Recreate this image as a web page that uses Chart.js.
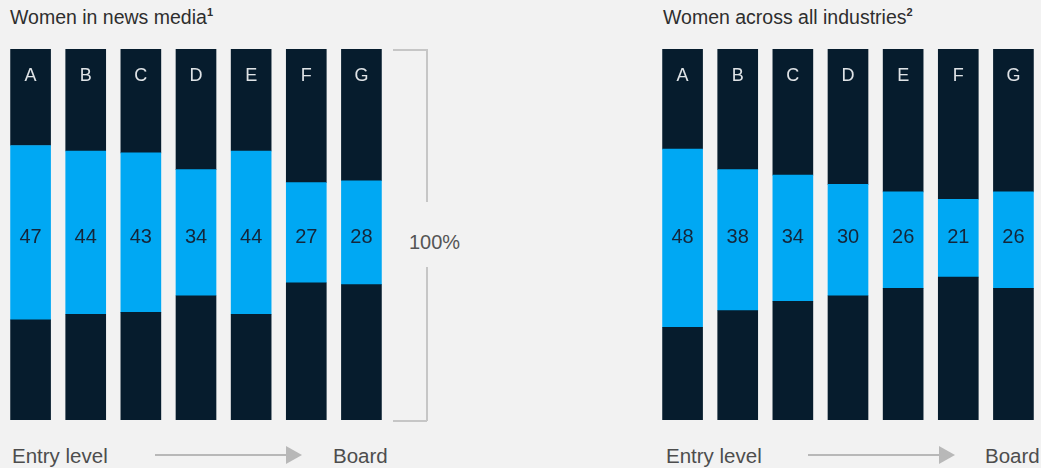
<!DOCTYPE html>
<html>
<head>
<meta charset="utf-8">
<script src="https://cdn.jsdelivr.net/npm/chart.js@4"></script>
<style>
  html, body { margin: 0; padding: 0; }
  body {
    width: 1041px; height: 468px; overflow: hidden; position: relative;
    background: #f2f2f2;
    font-family: "Liberation Sans", Arial, sans-serif;
  }
  .abs { position: absolute; }
  .title { font-size: 19.5px; color: #2e2e2e; line-height: 20px; top: 7px; white-space: nowrap; }
  .title sup { font-size: 11px; font-weight: bold; vertical-align: 0; position: relative; top: -8px; }
  .foot { font-size: 20.5px; color: #4d4d4d; line-height: 20px; top: 446px; white-space: nowrap; }
  .arrow-line { height: 2px; background: #b8b8b8; top: 454px; }
  .arrow-head { width: 0; height: 0; top: 446px;
    border-top: 9px solid transparent; border-bottom: 9px solid transparent; border-left: 16px solid #b8b8b8; }
  .brk { background: #c6c6c6; }
  .pct { font-size: 20px; color: #555; line-height: 20px; top: 232px; left: 409px; }
</style>
</head>
<body>

<div class="abs title" style="left:10px;">Women in news media<sup>1</sup></div>
<div class="abs title" style="left:663px;">Women across all industries<sup>2</sup></div>

<canvas id="newsChart" class="abs" width="386" height="371" style="left:3px; top:49px;"></canvas>
<canvas id="allChart" class="abs" width="386" height="371" style="left:655px; top:49px;"></canvas>

<!-- 100% bracket -->
<div class="abs brk" style="left:393px; top:49px; width:34px; height:1.5px;"></div>
<div class="abs brk" style="left:426px; top:49px; width:1.5px; height:153px;"></div>
<div class="abs pct">100%</div>
<div class="abs brk" style="left:426px; top:267px; width:1.5px; height:154px;"></div>
<div class="abs brk" style="left:393px; top:420px; width:34px; height:1.5px;"></div>

<!-- footers -->
<div class="abs foot" style="left:12px;">Entry level</div>
<div class="abs arrow-line" style="left:155px; width:134px;"></div>
<div class="abs arrow-head" style="left:286px;"></div>
<div class="abs foot" style="left:333px;">Board</div>

<div class="abs foot" style="left:666px;">Entry level</div>
<div class="abs arrow-line" style="left:808px; width:134px;"></div>
<div class="abs arrow-head" style="left:939px;"></div>
<div class="abs foot" style="left:985px;">Board</div>

<script>
// Categories (career levels, entry level -> board)
const levels = ['A', 'B', 'C', 'D', 'E', 'F', 'G'];

// Women in news media (% share, blue segment) with dark padding below/above
const newsBelow = [27, 28.5, 29, 33.5, 28.5, 37, 36.5];
const newsWomen = [47, 44, 43, 34, 44, 27, 28];
const newsAbove = [26, 27.5, 28, 32.5, 27.5, 36, 35.5];

// Women across all industries
const allBelow = [25, 29.5, 32, 33.5, 35.5, 38.5, 35.5];
const allWomen = [48, 38, 34, 30, 26, 21, 26];
const allAbove = [27, 32.5, 34, 36.5, 38.5, 40.5, 38.5];

const DARK = '#061c2d';
const BLUE = '#00a8f3';

// Draw the level letters near the top and the women value in the middle
const barLabels = {
    id: 'barLabels',
    afterDatasetsDraw(chart) {
        const ctx = chart.ctx;
        const y = chart.scales.y;
        const bars = chart.getDatasetMeta(1).data;
        const values = chart.data.datasets[1].data;
        ctx.save();
        ctx.textAlign = 'center';
        ctx.textBaseline = 'middle';
        bars.forEach((bar, i) => {
            ctx.font = '18px "Liberation Sans", Arial, sans-serif';
            ctx.fillStyle = '#dfe3e6';
            ctx.fillText(chart.data.labels[i], bar.x, y.getPixelForValue(92.7));
            ctx.font = '20px "Liberation Sans", Arial, sans-serif';
            ctx.fillStyle = '#14263a';
            ctx.fillText(String(values[i]), bar.x, y.getPixelForValue(49.2));
        });
        ctx.restore();
    }
};

function makeChart(id, below, women, above) {
    const ctx = document.getElementById(id);
    const common = { barThickness: 40, borderWidth: 0, borderSkipped: false };
    return new Chart(ctx, {
        type: 'bar',
        data: {
            labels: levels,
            datasets: [
                Object.assign({ label: 'below', data: below, backgroundColor: DARK }, common),
                Object.assign({ label: 'women', data: women, backgroundColor: BLUE }, common),
                Object.assign({ label: 'above', data: above, backgroundColor: DARK }, common)
            ]
        },
        options: {
            responsive: false,
            animation: false,
            layout: { padding: 0 },
            plugins: {
                legend: { display: false },
                tooltip: { enabled: false }
            },
            scales: {
                x: { stacked: true, display: false },
                y: { stacked: true, display: false, min: 0, max: 100 }
            }
        },
        plugins: [barLabels]
    });
}

makeChart('newsChart', newsBelow, newsWomen, newsAbove);
makeChart('allChart', allBelow, allWomen, allAbove);
</script>
</body>
</html>
